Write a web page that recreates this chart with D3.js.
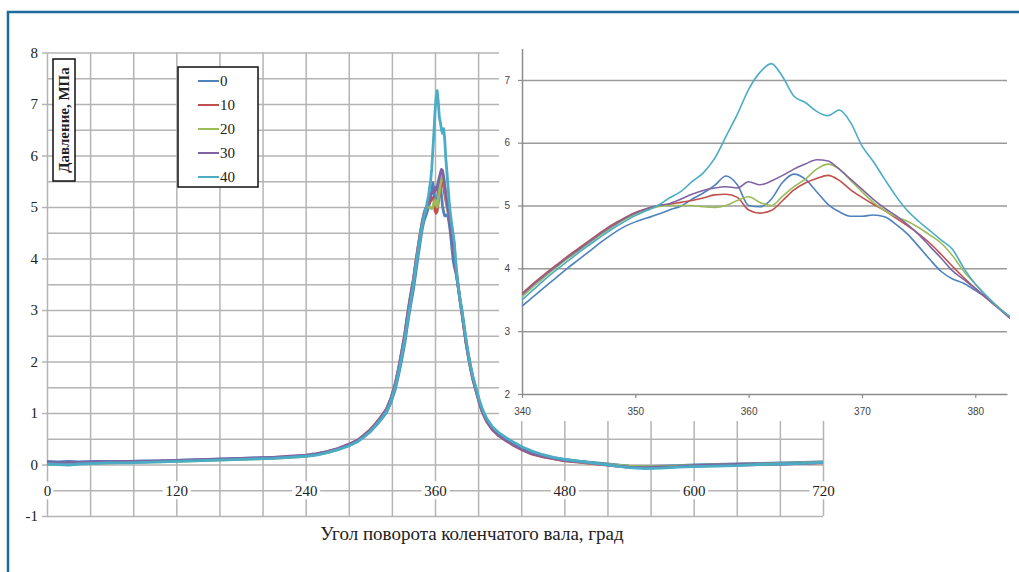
<!DOCTYPE html>
<meta charset="utf-8">
<style>
body { margin: 0; background: #fff; }
.grid line { stroke: #b4b4b4; stroke-width: 1.5px; }
.grid path { display: none; }
.axis--main path { display: none; }
.axis--main line { stroke: #b4b4b4; stroke-width: 1.5px; }
.axis--inset path { stroke: #8c8c8c; stroke-width: 1.5px; }
.axis--inset line { stroke: #8c8c8c; stroke-width: 1.2px; }
.igrid line { stroke: #9a9a9a; stroke-width: 1.5px; }
.igrid path { display: none; }
.line { fill: none; stroke-linejoin: round; }
</style>
<svg width="1019" height="572"></svg>
<script src="https://cdn.jsdelivr.net/npm/d3@7"></script>
<script>

// series names and colours
var seriesNames = ["0", "10", "20", "30", "40"];
var seriesColors = ["#4f81bd", "#c0504d", "#9bbb59", "#8064a2", "#4bacc6"];

// angle grids (deg)
var leftAngles = [0, 10, 20, 30, 45, 60, 75, 90, 105, 120, 135, 150, 165, 180, 195, 210, 225, 240,
  250, 260, 270, 280, 288, 294, 300, 305, 310, 315, 319, 323, 326, 329, 332, 334, 336, 338];
var peakAngles = [340, 341, 342, 343, 344, 345, 346, 347, 348, 349, 350, 351, 352, 353, 354, 355,
  356, 357, 358, 359, 360, 361, 362, 363, 364, 365, 366, 367, 368, 369, 370, 371, 372, 373, 374,
  375, 376, 377, 378, 379, 380, 381, 382, 383];
var rightAngles = [385, 387, 389, 391, 393, 395, 398, 401, 404, 408, 413, 419, 426, 433, 441, 450,
  460, 470, 480, 495, 510, 525, 540, 555, 570, 585, 600, 620, 640, 660, 680, 700, 720];

// pressure, MPa -- left wing
var left0  = [0.06,0.05,0.06,0.05,0.06,0.06,0.06,0.07,0.07,0.08,0.09,0.10,0.11,0.12,0.13,0.14,0.15,0.17,0.20,0.24,0.30,0.37,0.45,0.54,0.64,0.75,0.87,1.01,1.20,1.45,1.72,2.02,2.36,2.65,2.92,3.17];
var left10 = [0.02,0.01,0.02,0.03,0.03,0.04,0.05,0.05,0.06,0.07,0.08,0.09,0.10,0.11,0.12,0.13,0.15,0.17,0.20,0.25,0.31,0.39,0.47,0.57,0.68,0.80,0.93,1.08,1.28,1.56,1.85,2.18,2.54,2.84,3.12,3.37];
var left20 = [0.00,0.01,0.00,0.02,0.02,0.03,0.04,0.05,0.05,0.06,0.07,0.08,0.09,0.10,0.11,0.12,0.14,0.16,0.19,0.23,0.29,0.37,0.45,0.55,0.66,0.78,0.91,1.06,1.26,1.53,1.82,2.14,2.50,2.80,3.07,3.32];
var left30 = [0.04,0.03,0.04,0.04,0.05,0.05,0.06,0.06,0.07,0.08,0.09,0.10,0.11,0.12,0.13,0.14,0.16,0.18,0.21,0.25,0.31,0.39,0.47,0.56,0.67,0.79,0.92,1.07,1.27,1.55,1.84,2.17,2.53,2.83,3.10,3.35];
var left40 = [0.01,0.00,-0.01,0.01,0.02,0.03,0.03,0.04,0.05,0.06,0.07,0.08,0.09,0.10,0.11,0.12,0.14,0.16,0.18,0.23,0.29,0.36,0.44,0.53,0.64,0.76,0.88,1.03,1.22,1.49,1.77,2.08,2.43,2.72,2.99,3.24];

// pressure, MPa -- combustion peak 340..383
var peak0  = [3.40,3.55,3.70,3.85,4.00,4.14,4.28,4.42,4.55,4.66,4.74,4.80,4.86,4.93,4.99,5.10,5.20,5.32,5.47,5.33,5.00,4.98,5.10,5.37,5.50,5.42,5.22,5.02,4.90,4.83,4.83,4.85,4.82,4.70,4.55,4.35,4.14,3.95,3.83,3.76,3.65,3.53,3.38,3.22];
var peak10 = [3.60,3.76,3.91,4.05,4.19,4.32,4.45,4.58,4.70,4.80,4.89,4.95,5.00,5.02,5.05,5.08,5.12,5.17,5.18,5.13,4.93,4.88,4.92,5.08,5.25,5.36,5.43,5.48,5.40,5.25,5.13,5.02,4.92,4.80,4.68,4.55,4.40,4.22,4.03,3.85,3.68,3.52,3.37,3.22];
var peak20 = [3.55,3.71,3.86,4.01,4.15,4.28,4.41,4.54,4.66,4.77,4.86,4.93,4.98,5.00,5.00,5.00,4.98,4.97,5.00,5.08,5.14,5.05,5.00,5.15,5.30,5.42,5.58,5.66,5.58,5.40,5.22,5.05,4.92,4.82,4.75,4.65,4.53,4.40,4.20,3.95,3.75,3.56,3.39,3.23];
var peak30 = [3.58,3.74,3.89,4.03,4.17,4.30,4.43,4.56,4.68,4.79,4.88,4.95,5.00,5.03,5.10,5.18,5.24,5.28,5.30,5.28,5.38,5.33,5.39,5.48,5.58,5.66,5.73,5.71,5.58,5.42,5.26,5.10,4.96,4.84,4.70,4.54,4.35,4.16,3.96,3.82,3.68,3.53,3.38,3.22];
var peak40 = [3.50,3.66,3.82,3.97,4.11,4.25,4.38,4.51,4.63,4.74,4.84,4.92,5.00,5.12,5.22,5.38,5.52,5.75,6.10,6.45,6.85,7.12,7.26,7.05,6.74,6.64,6.50,6.43,6.52,6.32,5.95,5.70,5.42,5.15,4.92,4.75,4.60,4.45,4.30,4.00,3.75,3.56,3.38,3.24];

// pressure, MPa -- right wing
var right0  = [2.93,2.64,2.36,2.12,1.90,1.70,1.47,1.24,1.05,0.87,0.72,0.60,0.50,0.41,0.32,0.24,0.18,0.13,0.10,0.06,0.03,0.00,-0.03,-0.04,-0.03,-0.02,-0.01,0.00,0.01,0.02,0.03,0.04,0.05];
var right10 = [2.94,2.63,2.33,2.08,1.86,1.66,1.43,1.20,1.01,0.83,0.68,0.56,0.46,0.37,0.28,0.20,0.15,0.11,0.07,0.04,0.01,-0.02,-0.05,-0.06,-0.05,-0.04,-0.03,-0.02,-0.01,0.00,0.01,0.02,0.03];
var right20 = [2.96,2.66,2.36,2.11,1.89,1.69,1.46,1.23,1.04,0.86,0.71,0.59,0.49,0.40,0.31,0.23,0.17,0.12,0.09,0.05,0.02,-0.01,-0.03,-0.04,-0.04,-0.03,-0.02,-0.01,0.00,0.01,0.02,0.03,0.05];
var right30 = [2.95,2.64,2.34,2.09,1.87,1.67,1.44,1.21,1.02,0.84,0.69,0.57,0.47,0.38,0.29,0.21,0.16,0.12,0.08,0.05,0.02,-0.02,-0.05,-0.06,-0.05,-0.04,-0.02,-0.01,0.00,0.01,0.01,0.02,0.04];
var right40 = [3.00,2.70,2.40,2.14,1.92,1.72,1.49,1.26,1.07,0.89,0.74,0.62,0.52,0.43,0.34,0.26,0.19,0.14,0.10,0.06,0.02,-0.02,-0.06,-0.08,-0.07,-0.05,-0.04,-0.03,-0.02,0.00,0.01,0.02,0.04];

// tick labels
var mainXLabels = [0, 120, 240, 360, 480, 600, 720];
var mainYLabels = [-1, 0, 1, 2, 3, 4, 5, 6, 7, 8];
var insetXLabels = [340, 350, 360, 370, 380];
var insetYLabels = [2, 3, 4, 5, 6, 7];

var yTitle = "Давление, МПа";
var xTitle = "Угол поворота коленчатого вала, град";

var serif = "'Liberation Serif', 'Times New Roman', serif",
    sans = "'Liberation Sans', Arial, sans-serif",
    plain = function(d) { return String(d); };

var svg = d3.select("svg");

var lefts = [left0, left10, left20, left30, left40],
    peaks = [peak0, peak10, peak20, peak30, peak40],
    rights = [right0, right10, right20, right30, right40];

var angles = leftAngles.concat(peakAngles, rightAngles);
var series = seriesNames.map(function(name, i) {
  var vals = lefts[i].concat(peaks[i], rights[i]);
  return {
    id: name,
    color: seriesColors[i],
    values: angles.map(function(a, j) { return {angle: a, p: vals[j]}; })
  };
});

// outer blue frame
svg.append("rect")
  .attr("x", 8).attr("y", 12)
  .attr("width", 1040).attr("height", 600)
  .attr("fill", "none")
  .attr("stroke", "#1b6c9c")
  .attr("stroke-width", 2.5);

// ---- main chart
var x = d3.scaleLinear().domain([0, 720]).range([47, 823]),
    y = d3.scaleLinear().domain([-1, 8]).range([516, 52.5]);

svg.append("g")
  .attr("class", "grid")
  .attr("transform", "translate(47,0)")
  .call(d3.axisLeft(y).tickValues(d3.range(-1, 8.01, 0.5)).tickSize(-(823 - 47)).tickFormat(""));

svg.append("g")
  .attr("class", "grid")
  .attr("transform", "translate(0,516)")
  .call(d3.axisBottom(x).tickValues(d3.range(0, 721, 40)).tickSize(-(516 - 52.5)).tickFormat(""));

var yl = svg.append("g")
  .attr("class", "axis axis--main")
  .attr("transform", "translate(47,0)")
  .call(d3.axisLeft(y).tickValues(mainYLabels).tickFormat(plain).tickSize(5).tickPadding(4));
yl.selectAll("text").style("font", "15px " + serif).style("fill", "#222");

var xl = svg.append("g")
  .attr("class", "axis axis--main")
  .attr("transform", "translate(0," + y(-0.5) + ")")
  .call(d3.axisBottom(x).tickValues(mainXLabels).tickFormat(plain).tickSize(0).tickPadding(0));
xl.selectAll(".tick text").attr("dy", "0.35em").attr("y", 0)
  .style("font", "15px " + serif).style("fill", "#222");
xl.selectAll(".tick").insert("rect", "text")
  .attr("x", function(d) { return d === 0 ? -4 : -14; })
  .attr("width", function(d) { return d === 0 ? 10 : 28; })
  .attr("y", -9).attr("height", 18)
  .attr("fill", "#fff");

var line = d3.line()
  .x(function(d) { return x(d.angle); })
  .y(function(d) { return y(d.p); });

svg.append("g").selectAll("path")
  .data(series)
  .enter().append("path")
    .attr("class", "line")
    .attr("d", function(d) { return line(d.values); })
    .style("stroke", function(d) { return d.color; })
    .style("stroke-width", 2.8);

// y title box
var yt = svg.append("g").attr("transform", "translate(64,120)");
yt.append("rect")
  .attr("x", -11).attr("y", -61).attr("width", 22).attr("height", 122)
  .attr("fill", "#fff").attr("stroke", "#111").attr("stroke-width", 1.5);
yt.append("text")
  .attr("transform", "rotate(-90)")
  .attr("text-anchor", "middle")
  .attr("dy", "0.35em")
  .style("font", "bold 15px " + serif)
  .style("fill", "#222")
  .text(yTitle);

// legend
var legend = svg.append("g").attr("transform", "translate(178,67)");
legend.append("rect")
  .attr("width", 80).attr("height", 120)
  .attr("fill", "#fff").attr("stroke", "#111").attr("stroke-width", 1.5);
var item = legend.selectAll(".item")
  .data(series)
  .enter().append("g")
    .attr("class", "item")
    .attr("transform", function(d, i) { return "translate(0," + (14 + i * 24) + ")"; });
item.append("line")
  .attr("x1", 20).attr("x2", 41)
  .style("stroke", function(d) { return d.color; })
  .style("stroke-width", 2);
item.append("text")
  .attr("x", 42).attr("dy", "0.35em")
  .style("font", "15px " + serif)
  .style("fill", "#222")
  .text(function(d) { return d.id; });

// x title
svg.append("text")
  .attr("x", 472).attr("y", 540)
  .attr("text-anchor", "middle")
  .style("font", "19px " + serif)
  .style("fill", "#222")
  .text(xTitle);

// ---- inset (zoom on 340..383 deg)
svg.append("rect")
  .attr("x", 499).attr("y", 33).attr("width", 514).attr("height", 388)
  .attr("fill", "#fff");

var xi = d3.scaleLinear().domain([340, 382.8]).range([522, 1007]),
    yi = d3.scaleLinear().domain([2, 7.5]).range([394, 48.5]);

svg.append("g")
  .attr("class", "igrid")
  .attr("transform", "translate(522,0)")
  .call(d3.axisLeft(yi).tickValues([3, 4, 5, 6, 7]).tickSize(-(1007 - 522)).tickFormat(""));

var iy = svg.append("g")
  .attr("class", "axis axis--inset")
  .attr("transform", "translate(522,0)")
  .call(d3.axisLeft(yi).tickValues(insetYLabels).tickFormat(plain).tickSize(4).tickPadding(8).tickSizeOuter(0));

var ix = svg.append("g")
  .attr("class", "axis axis--inset")
  .attr("transform", "translate(0,394)")
  .call(d3.axisBottom(xi).tickValues(insetXLabels).tickFormat(plain).tickSize(4).tickPadding(10).tickSizeOuter(0));

iy.selectAll("text").style("font", "10px " + sans).style("fill", "#444");
ix.selectAll("text").style("font", "10px " + sans).style("fill", "#444");

svg.append("clipPath").attr("id", "iclip")
  .append("rect").attr("x", 522).attr("y", 40).attr("width", 1007 - 522 + 3).attr("height", 360);

var iline = d3.line()
  .curve(d3.curveMonotoneX)
  .x(function(d) { return xi(d.angle); })
  .y(function(d) { return yi(d.p); });

svg.append("g").attr("clip-path", "url(#iclip)").selectAll("path")
  .data(series)
  .enter().append("path")
    .attr("class", "line")
    .attr("d", function(d) {
      return iline(d.values.filter(function(v) { return v.angle >= 338 && v.angle <= 385; }));
    })
    .style("stroke", function(d) { return d.color; })
    .style("stroke-width", 1.6);

</script>
